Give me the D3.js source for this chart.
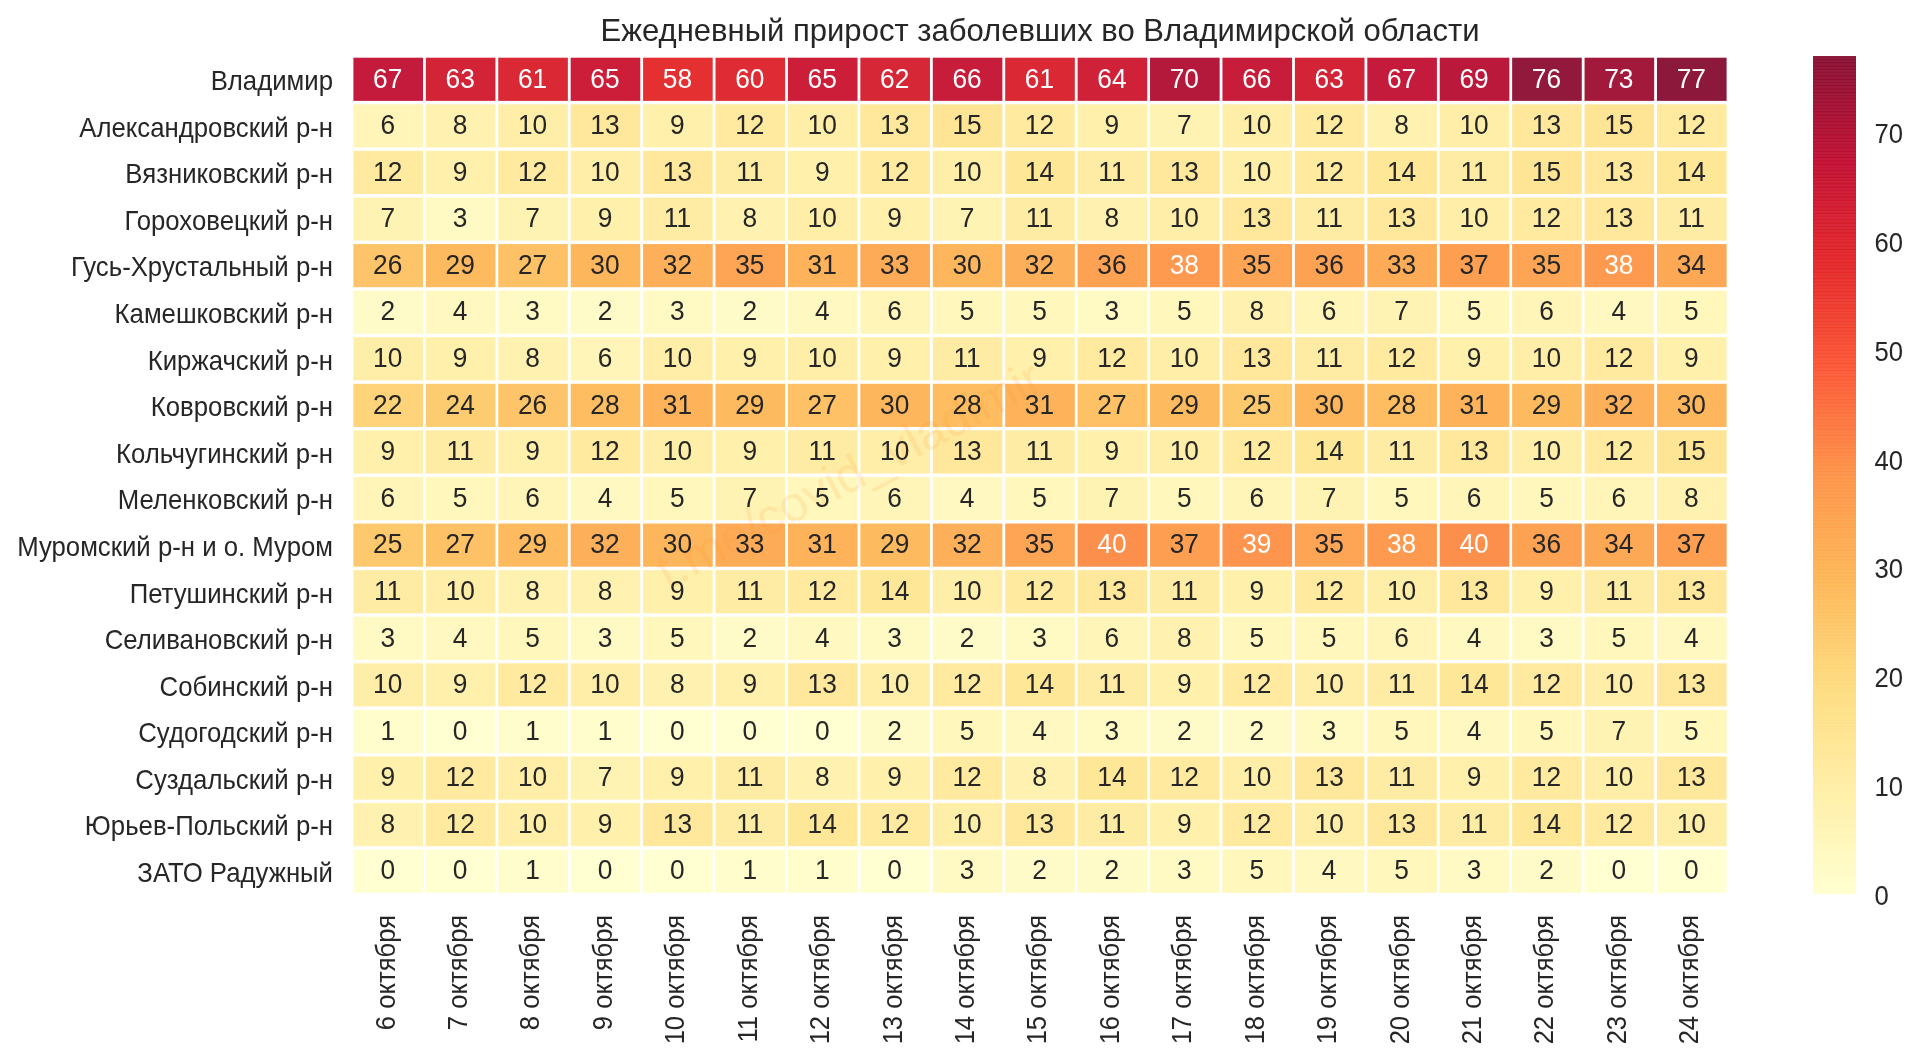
<!DOCTYPE html>
<html lang="ru">
<head>
<meta charset="utf-8">
<script src="https://cdn.jsdelivr.net/npm/d3@7/dist/d3.min.js"></script>
<style>
html,body{margin:0;padding:0;background:#fff;}
svg{display:block;filter:blur(0.6px);}
text{font-family:"Liberation Sans",Arial,sans-serif;fill:#262626;}
</style>
</head>
<body>
<svg id="chart" width="1920" height="1060"></svg>
<script>
const titleText = "Ежедневный прирост заболевших во Владимирской области";
const watermarkText = "t.me/covid_vladimir";
const days = ["6 октября","7 октября","8 октября","9 октября","10 октября","11 октября","12 октября","13 октября","14 октября","15 октября","16 октября","17 октября","18 октября","19 октября","20 октября","21 октября","22 октября","23 октября","24 октября"];
const districts = ["Владимир","Александровский р-н","Вязниковский р-н","Гороховецкий р-н","Гусь-Хрустальный р-н","Камешковский р-н","Киржачский р-н","Ковровский р-н","Кольчугинский р-н","Меленковский р-н","Муромский р-н и о. Муром","Петушинский р-н","Селивановский р-н","Собинский р-н","Судогодский р-н","Суздальский р-н","Юрьев-Польский р-н","ЗАТО Радужный"];
const vladimir = [67,63,61,65,58,60,65,62,66,61,64,70,66,63,67,69,76,73,77];
const aleksandrov = [6,8,10,13,9,12,10,13,15,12,9,7,10,12,8,10,13,15,12];
const vyazniki = [12,9,12,10,13,11,9,12,10,14,11,13,10,12,14,11,15,13,14];
const gorokhovets = [7,3,7,9,11,8,10,9,7,11,8,10,13,11,13,10,12,13,11];
const gus = [26,29,27,30,32,35,31,33,30,32,36,38,35,36,33,37,35,38,34];
const kameshkovo = [2,4,3,2,3,2,4,6,5,5,3,5,8,6,7,5,6,4,5];
const kirzhach = [10,9,8,6,10,9,10,9,11,9,12,10,13,11,12,9,10,12,9];
const kovrov = [22,24,26,28,31,29,27,30,28,31,27,29,25,30,28,31,29,32,30];
const kolchugino = [9,11,9,12,10,9,11,10,13,11,9,10,12,14,11,13,10,12,15];
const melenki = [6,5,6,4,5,7,5,6,4,5,7,5,6,7,5,6,5,6,8];
const murom = [25,27,29,32,30,33,31,29,32,35,40,37,39,35,38,40,36,34,37];
const petushki = [11,10,8,8,9,11,12,14,10,12,13,11,9,12,10,13,9,11,13];
const selivanovo = [3,4,5,3,5,2,4,3,2,3,6,8,5,5,6,4,3,5,4];
const sobinka = [10,9,12,10,8,9,13,10,12,14,11,9,12,10,11,14,12,10,13];
const sudogda = [1,0,1,1,0,0,0,2,5,4,3,2,2,3,5,4,5,7,5];
const suzdal = [9,12,10,7,9,11,8,9,12,8,14,12,10,13,11,9,12,10,13];
const yuryev = [8,12,10,9,13,11,14,12,10,13,11,9,12,10,13,11,14,12,10];
const raduzhny = [0,0,1,0,0,1,1,0,3,2,2,3,5,4,5,3,2,0,0];
const rows = [vladimir,aleksandrov,vyazniki,gorokhovets,gus,kameshkovo,kirzhach,kovrov,kolchugino,melenki,murom,petushki,selivanovo,sobinka,sudogda,suzdal,yuryev,raduzhny];
const colorStops = ["#ffffcc","#ffeda0","#fed976","#feb24c","#fd8d3c","#fc4e2a","#e31a1c","#bd0026","#800026"];
const colorTicks = [0,10,20,30,40,50,60,70];
const vMax = 77, whiteFrom = 38;

const plot = {l:352, r:1728, t:56, b:894.5};
const bar = {l:1813, r:1856, t:56, b:893.3};

const svg = d3.select("#chart");
const x = d3.scaleBand().domain(days).range([plot.l, plot.r]);
const y = d3.scaleBand().domain(districts).range([plot.t, plot.b]);
const color = d3.scaleLinear()
  .domain(colorStops.map((c,i)=>vMax*i/(colorStops.length-1)))
  .range(colorStops).interpolate(d3.interpolateRgb);

const cells = rows.flatMap((r,i)=>r.map((v,j)=>({v,row:districts[i],day:days[j]})));
const gapX = 2.8, gapY = 3.4;
svg.append("g").selectAll("rect").data(cells).join("rect")
  .attr("x",d=>x(d.day)+gapX/2).attr("y",d=>y(d.row)+gapY/2)
  .attr("width",x.bandwidth()-gapX).attr("height",y.bandwidth()-gapY)
  .attr("fill",d=>color(d.v)).attr("fill-opacity",0.9);

// watermark
svg.append("text")
  .attr("transform","translate(668,590) rotate(-28)")
  .attr("font-size",50)
  .style("fill","#f58a20").attr("fill-opacity",0.13)
  .text(watermarkText);

svg.append("g").selectAll("text").data(cells).join("text")
  .attr("transform",d=>`translate(${x(d.day)+x.bandwidth()/2-0.5},${y(d.row)+y.bandwidth()/2-1.5}) scale(0.94,1)`)
  .attr("text-anchor","middle").attr("dominant-baseline","central")
  .attr("font-size",28)
  .style("fill",d=>d.v>=whiteFrom?"#fff":"#262626")
  .text(d=>d.v);

// axes
const ax = svg.append("g").attr("transform",`translate(0,${plot.b})`).call(d3.axisBottom(x).tickSize(0));
ax.select(".domain").remove();
ax.selectAll("text").attr("x",0).attr("y",0).attr("dy",null)
  .attr("text-anchor","end").attr("dominant-baseline","central")
  .attr("font-size",26)
  .attr("transform","translate(-3,20.5) rotate(-90) scale(0.985,1.08)");

const ay = svg.append("g").attr("transform",`translate(${plot.l},0)`).call(d3.axisLeft(y).tickSize(0));
ay.select(".domain").remove();
ay.selectAll("text").attr("x",0).attr("dy",null)
  .attr("text-anchor","end").attr("dominant-baseline","central")
  .attr("font-size",28)
  .attr("transform","translate(-19,1.5) scale(0.92,1)");

// title
svg.append("text")
  .attr("transform",`translate(${(plot.l+plot.r)/2},41) scale(0.97,1)`)
  .attr("text-anchor","middle").attr("font-size",32).text(titleText);

// colorbar
const cy = d3.scaleLinear().domain([0,vMax]).range([bar.b,bar.t]);
const levels = d3.range(256).map(i=>i*vMax/256);
svg.append("g").selectAll("rect").data(levels).join("rect")
  .attr("x",bar.l).attr("width",bar.r-bar.l)
  .attr("y",d=>cy(d+vMax/256)).attr("height",d=>cy(d)-cy(d+vMax/256)+0.6)
  .attr("fill",d=>color(d+vMax/512)).attr("fill-opacity",0.9);
const ac = svg.append("g").attr("transform",`translate(${bar.r},0)`).call(d3.axisRight(cy).tickValues(colorTicks).tickSize(0));
ac.select(".domain").remove();
ac.selectAll("text").attr("x",0).attr("dy",null)
  .attr("text-anchor","start").attr("dominant-baseline","central")
  .attr("font-size",27)
  .attr("transform","translate(18.5,1.5) scale(0.95,1)");
</script>
</body>
</html>
